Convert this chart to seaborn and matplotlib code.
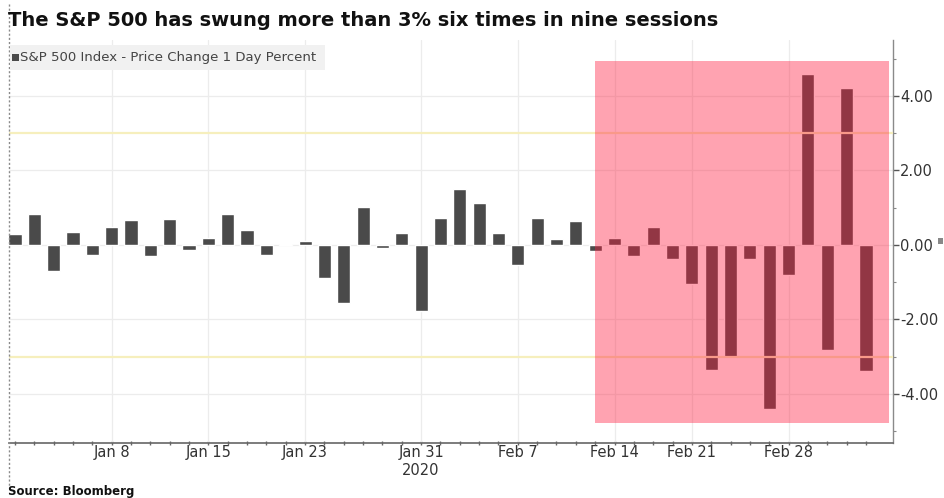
import matplotlib
matplotlib.use("Agg")
import matplotlib.pyplot as plt
import seaborn as sns
import pandas as pd
from matplotlib.patches import Rectangle
from matplotlib.lines import Line2D
from matplotlib.ticker import MultipleLocator, FixedLocator, FormatStrFormatter

# S&P 500 daily % change, Dec 31 2019 .. Mar 5 2020 (trading days)
dates = ["Dec 31",
         "Jan 2", "Jan 3", "Jan 6", "Jan 7", "Jan 8", "Jan 9", "Jan 10", "Jan 13", "Jan 14",
         "Jan 15", "Jan 16", "Jan 17", "Jan 21", "Jan 22", "Jan 23", "Jan 24", "Jan 27",
         "Jan 28", "Jan 29", "Jan 30", "Jan 31",
         "Feb 3", "Feb 4", "Feb 5", "Feb 6", "Feb 7", "Feb 10", "Feb 11", "Feb 12", "Feb 13",
         "Feb 14", "Feb 18", "Feb 19", "Feb 20", "Feb 21", "Feb 24", "Feb 25", "Feb 26",
         "Feb 27", "Feb 28",
         "Mar 2", "Mar 3", "Mar 4", "Mar 5"]
pct_change = [0.29,
              0.84, -0.71, 0.35, -0.28, 0.49, 0.67, -0.29, 0.70, -0.15,
              0.19, 0.84, 0.39, -0.27, 0.03, 0.11, -0.90, -1.57,
              1.01, -0.09, 0.31, -1.77,
              0.73, 1.50, 1.13, 0.33, -0.54, 0.73, 0.17, 0.65, -0.16,
              0.18, -0.29, 0.47, -0.38, -1.05, -3.35, -3.03, -0.38,
              -4.42, -0.82,
              4.60, -2.81, 4.22, -3.39]
tick_dates = ["Jan 8", "Jan 15", "Jan 23", "Jan 31", "Feb 7", "Feb 14", "Feb 21", "Feb 28"]
y_ticks = [-4, -2, 0, 2, 4]
swing_levels = [-3, 3]
highlight_from = "Feb 13"

df = pd.DataFrame({"date": dates, "pct": pct_change})

W, H = 945, 498
sns.set_theme(style="white")
plt.rcParams["font.family"] = ["DejaVu Sans"]
plt.rcParams["axes.unicode_minus"] = False

fig = plt.figure(figsize=(W / 100, H / 100), dpi=100)
ax = fig.add_axes([9 / W, 1 - 443 / H, (893 - 9) / W, (443 - 40) / H])

sns.barplot(data=df, x="date", y="pct", color="#4a4a4a", saturation=1,
            width=0.68, ax=ax, zorder=3)

ax.set_xlim(-0.31, len(dates) - 1 + 1.4)
ax.set_ylim(-5.32, 5.5)

# grid
tick_pos = [dates.index(d) for d in tick_dates]
for p in tick_pos:
    ax.axvline(p, color="#ececec", lw=0.9, zorder=1)
for v in y_ticks:
    ax.axhline(v, color="#ececec", lw=0.9, zorder=1)
for v in swing_levels:
    ax.axhline(v, color="#f6efbd", lw=1.6, zorder=4)

# highlight box
x0 = dates.index(highlight_from)
ax.add_patch(Rectangle((x0, -4.78), len(dates) - 1 + 1.2 - x0, 4.94 + 4.78,
                       facecolor="#ff1a3c", alpha=0.4, edgecolor="none", zorder=5))

# axes styling
for s in ["top", "left"]:
    ax.spines[s].set_visible(False)
ax.spines["right"].set_color("#8a8a8a")
ax.spines["bottom"].set_color("#666666")
ax.spines["right"].set_linewidth(1.0)
ax.spines["bottom"].set_linewidth(1.2)

ax.yaxis.tick_right()
ax.yaxis.set_major_locator(FixedLocator(y_ticks))
ax.yaxis.set_minor_locator(MultipleLocator(1))
ax.yaxis.set_major_formatter(FormatStrFormatter("%.2f"))
ax.tick_params(axis="y", which="major", right=True, length=4, width=1, color="#555555",
               labelsize=10.5, labelcolor="#333333", pad=1)
ax.tick_params(axis="y", which="minor", right=True, length=2, width=0.8, color="#888888")

ax.xaxis.set_major_locator(FixedLocator(tick_pos))
ax.set_xticklabels(tick_dates)
ax.xaxis.set_minor_locator(FixedLocator(range(len(dates))))
ax.tick_params(axis="x", which="major", bottom=True, length=3, width=1, color="#666666",
               labelsize=10.5, labelcolor="#333333", pad=0, direction="inout")
ax.tick_params(axis="x", which="minor", bottom=True, length=3, width=1, color="#666666",
               direction="inout")
ax.set_xlabel("")
ax.set_ylabel("")

ax.text(dates.index("Jan 31"), -0.068, "2020", transform=ax.get_xaxis_transform(),
        ha="center", va="center", fontsize=10.5, color="#333333")

# legend box
fig.patches.append(Rectangle((10 / W, 1 - 70 / H), 315 / W, 25 / H, transform=fig.transFigure,
                             facecolor="#f1f1f1", edgecolor="none", zorder=2))
fig.patches.append(Rectangle((12 / W, 1 - 61 / H), 7 / W, 7 / H, transform=fig.transFigure,
                             facecolor="#4a4a4a", edgecolor="none", zorder=3))
fig.text(20 / W, 1 - 57 / H, "S&P 500 Index - Price Change 1 Day Percent",
         fontsize=9.5, color="#444444", va="center", ha="left", zorder=4)

# left dotted frame
fig.add_artist(Line2D([9.5 / W, 9.5 / W], [1 - 4 / H, 1 - 486 / H], transform=fig.transFigure,
                      color="#8a8a8a", lw=1, linestyle=(0, (1.5, 1.5))))

# last value marker
fig.patches.append(Rectangle((938 / W, 1 - 244 / H), 5 / W, 6 / H, transform=fig.transFigure,
                             facecolor="#888888", edgecolor="none"))

fig.text(8 / W, 1 - 20 / H, "The S&P 500 has swung more than 3% six times in nine sessions",
         fontsize=14, fontweight="bold", color="#111111", va="center", ha="left")
fig.text(8 / W, 1 - 491 / H, "Source: Bloomberg", fontsize=8.5, fontweight="bold",
         color="#111111", va="center", ha="left")

fig.savefig("out.png", dpi=100)
